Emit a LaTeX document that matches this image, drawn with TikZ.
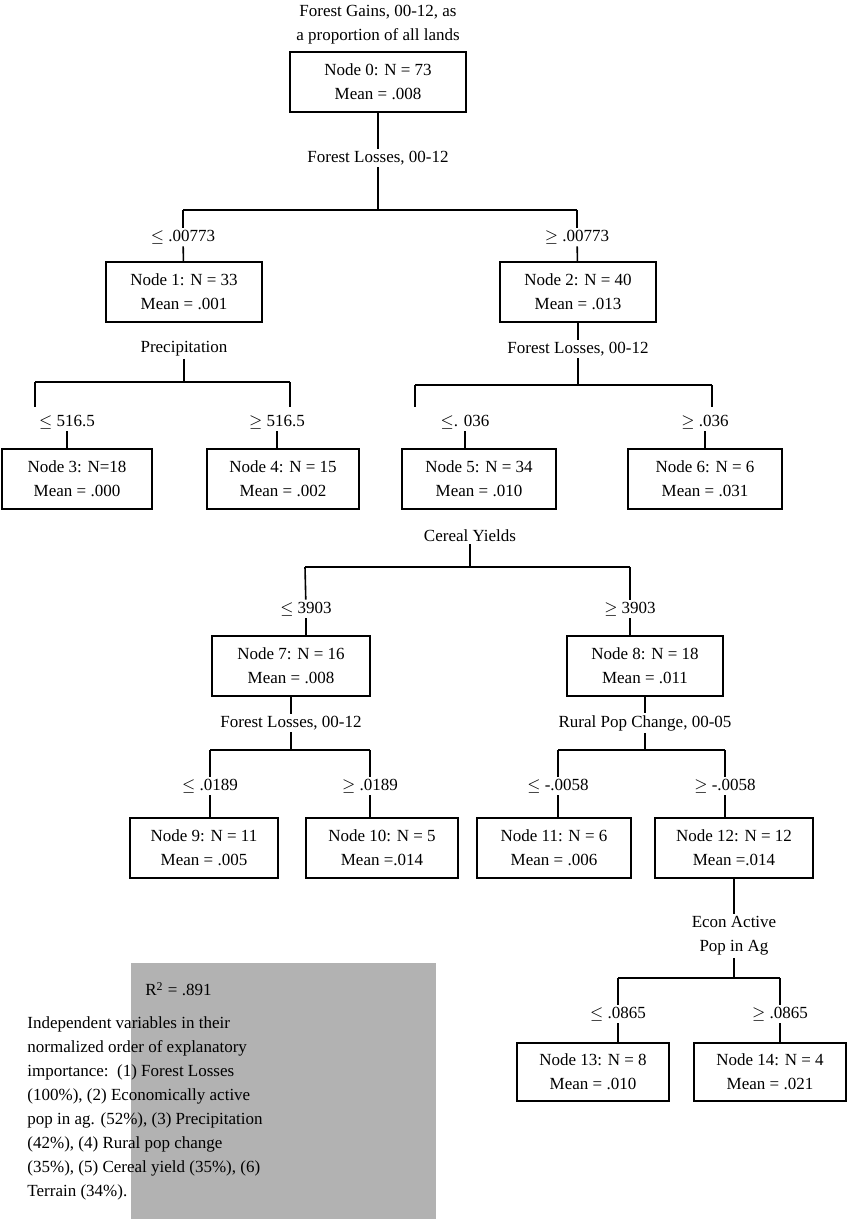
\documentclass[tikz,border=0pt]{standalone}
\usepackage{fontspec}
\setmainfont{Liberation Serif}
\usetikzlibrary{positioning}

\tikzset{
  box/.style={draw, line width=1pt, minimum width=77pt, minimum height=30pt, align=center, inner sep=1pt},
  txt/.style={align=center, inner sep=1pt},
  br/.style={line width=0.8pt}
}

\begin{document}
\begin{tikzpicture}[x=0.5pt, y=-0.5pt, font=\fontsize{8.5}{12}\selectfont]
    \useasboundingbox (0,0) rectangle (850,1219);

    % Root
    \node[txt] (title) at (378,25) {Forest Gains, 00-12, as\\a proportion of all lands};
    \node[box, minimum width=88pt] (n0) at (378,82) {Node 0: N = 73\\Mean = .008};
    \node[txt] (s0) at (378,158) {Forest Losses, 00-12};
    \coordinate (b0) at (378,210);
    \coordinate (b0l) at (183,210);
    \coordinate (b0r) at (577,210);
    \node[txt] (l1) at (183,237) {$\leq$ .00773};
    \node[txt] (l2) at (577,237) {$\geq$ .00773};
    \draw[br] (n0) -- (s0);
    \draw[br] (s0) -- (b0);
    \draw[br] (b0l) -- (b0r);
    \draw[br] (b0l) -- (l1);
    \draw[br] (b0r) -- (l2);

    % Level 1
    \node[box, minimum width=78pt] (n1) at (184,292) {Node 1: N = 33\\Mean = .001};
    \node[box, minimum width=78pt] (n2) at (578,292) {Node 2: N = 40\\Mean = .013};
    \draw[br] (l1) -- (n1);
    \draw[br] (l2) -- (n2);

    % Node 1 split
    \node[txt] (s1) at (184,349) {Precipitation};
    \coordinate (b1) at (184,382);
    \coordinate (b1l) at (35,382);
    \coordinate (b1r) at (290,382);
    \node[txt] (l3) at (67,422) {$\leq$ 516.5};
    \node[txt] (l4) at (277,422) {$\geq$ 516.5};
    \node[box, minimum width=75pt] (n3) at (77,479) {Node 3: N=18\\Mean = .000};
    \node[box, minimum width=76pt] (n4) at (283,479) {Node 4: N = 15\\Mean = .002};
    \draw[br] (s1) -- (b1);
    \draw[br] (b1l) -- (b1r);
    \draw[br] (b1l) -- (35,407);
    \draw[br] (b1r) -- (290,407);
    \draw[br] (l3) -- (l3 |- n3.north);
    \draw[br] (l4) -- (l4 |- n4.north);

    % Node 2 split
    \node[txt] (s2) at (578,349) {Forest Losses, 00-12};
    \coordinate (b2) at (578,385);
    \coordinate (b2l) at (415,385);
    \coordinate (b2r) at (712,385);
    \node[txt] (l5) at (465,422) {$\leq$. 036};
    \node[txt] (l6) at (705,422) {$\geq$ .036};
    \node[box] (n5) at (479,479) {Node 5: N = 34\\Mean = .010};
    \node[box] (n6) at (705,479) {Node 6: N = 6\\Mean = .031};
    \draw[br] (n2) -- (s2);
    \draw[br] (s2) -- (b2);
    \draw[br] (b2l) -- (b2r);
    \draw[br] (b2l) -- (415,407);
    \draw[br] (b2r) -- (712,407);
    \draw[br] (l5) -- (l5 |- n5.north);
    \draw[br] (l6) -- (l6 |- n6.north);

    % Node 5 split
    \node[txt] (s5) at (470,536) {Cereal Yields};
    \coordinate (b5l) at (305,567);
    \coordinate (b5r) at (630,567);
    \node[txt] (l7) at (306,609) {$\leq$ 3903};
    \node[txt] (l8) at (630,609) {$\geq$ 3903};
    \node[box, minimum width=79pt] (n7) at (291,666) {Node 7: N = 16\\Mean = .008};
    \node[box, minimum width=78pt] (n8) at (645,666) {Node 8: N = 18\\Mean = .011};
    \draw[br] (s5) -- (470,567);
    \draw[br] (b5l) -- (b5r);
    \draw[br] (b5l) -- (l7);
    \draw[br] (b5r) -- (l8);
    \draw[br] (l7) -- (l7 |- n7.north);
    \draw[br] (l8) -- (l8 |- n8.north);

    % Node 7 split
    \node[txt] (s7) at (291,723) {Forest Losses, 00-12};
    \coordinate (b7l) at (210,750);
    \coordinate (b7r) at (370,750);
    \node[txt] (l9) at (210,786) {$\leq$ .0189};
    \node[txt] (l10) at (370,786) {$\geq$ .0189};
    \node[box, minimum width=74pt] (n9) at (204,848) {Node 9: N = 11\\Mean = .005};
    \node[box, minimum width=76pt] (n10) at (382,848) {Node 10: N = 5\\Mean =.014};
    \draw[br] (n7) -- (s7);
    \draw[br] (s7) -- (291,750);
    \draw[br] (b7l) -- (b7r);
    \draw[br] (b7l) -- (l9);
    \draw[br] (b7r) -- (l10);
    \draw[br] (l9) -- (l9 |- n9.north);
    \draw[br] (l10) -- (l10 |- n10.north);

    % Node 8 split
    \node[txt] (s8) at (645,723) {Rural Pop Change, 00-05};
    \coordinate (b8l) at (558,750);
    \coordinate (b8r) at (725,750);
    \node[txt] (l11) at (558,786) {$\leq$ -.0058};
    \node[txt] (l12) at (725,786) {$\geq$ -.0058};
    \node[box] (n11) at (554,848) {Node 11: N = 6\\Mean = .006};
    \node[box, minimum width=79pt] (n12) at (734,848) {Node 12: N = 12\\Mean =.014};
    \draw[br] (n8) -- (s8);
    \draw[br] (s8) -- (645,750);
    \draw[br] (b8l) -- (b8r);
    \draw[br] (b8l) -- (l11);
    \draw[br] (b8r) -- (l12);
    \draw[br] (l11) -- (l11 |- n11.north);
    \draw[br] (l12) -- (l12 |- n12.north);

    % Node 12 split
    \node[txt] (s12) at (734,936) {Econ Active\\Pop in Ag};
    \coordinate (b12l) at (618,978);
    \coordinate (b12r) at (780,978);
    \node[txt] (l13) at (618,1014) {$\leq$ .0865};
    \node[txt] (l14) at (780,1014) {$\geq$ .0865};
    \node[box, minimum width=76pt, minimum height=29pt] (n13) at (593,1072) {Node 13: N = 8\\Mean = .010};
    \node[box, minimum width=76pt, minimum height=29pt] (n14) at (770,1072) {Node 14: N = 4\\Mean = .021};
    \draw[br] (n12) -- (s12);
    \draw[br] (s12) -- (734,978);
    \draw[br] (b12l) -- (b12r);
    \draw[br] (b12l) -- (l13);
    \draw[br] (b12r) -- (l14);
    \draw[br] (l13) -- (l13 |- n13.north);
    \draw[br] (l14) -- (l14 |- n14.north);

    % Summary box
    \fill[gray!60] (131,963) rectangle (436,1219);
    \node[anchor=north west, align=left, inner sep=0pt] (r2) at (145,982) {R\textsuperscript{2} = .891};
    \node[anchor=north west, align=left, inner sep=0pt, below=10pt of r2.south west] (imp) {Independent variables in their\\normalized order of explanatory\\importance:\ \ (1) Forest Losses\\(100\%), (2) Economically active\\pop in ag. (52\%), (3) Precipitation\\(42\%), (4) Rural pop change\\(35\%), (5) Cereal yield (35\%), (6)\\Terrain (34\%).};
\end{tikzpicture}
\end{document}
